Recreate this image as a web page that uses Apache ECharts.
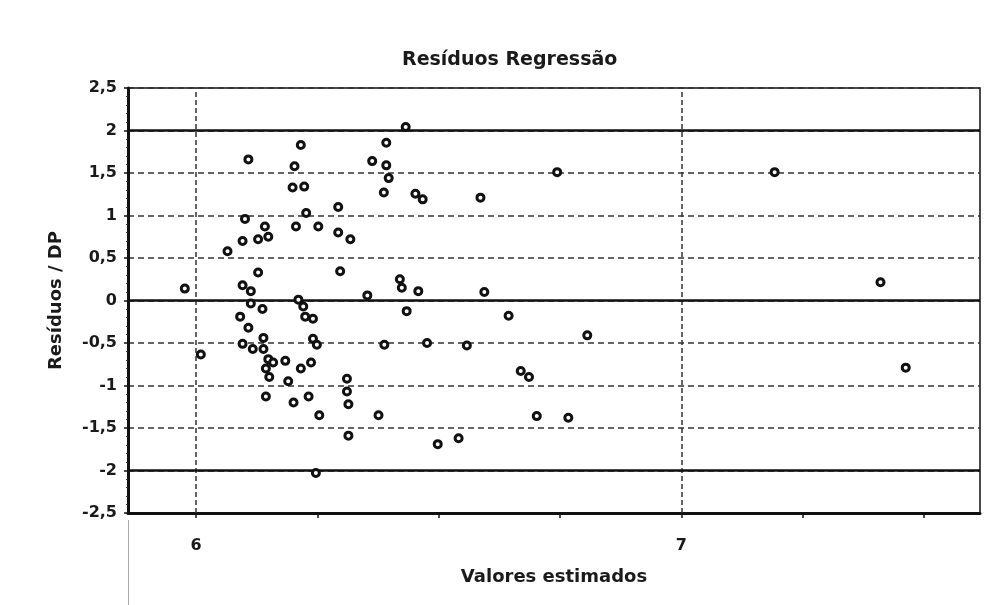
<!DOCTYPE html>
<html>
<head>
<meta charset="utf-8">
<script src="https://cdn.jsdelivr.net/npm/echarts@6/dist/echarts.min.js"></script>
<style>html,body{margin:0;padding:0;background:#fff;}#c{width:997px;height:605px;}</style>
</head>
<body>
<div id="c"></div>
<script>
const chartTitle = 'Resíduos Regressão';
const xAxisTitle = 'Valores estimados';
const yAxisTitle = 'Resíduos / DP';
const xLabelValues = [6, 7];
const xTickValues = [6, 6.25, 6.5, 6.75, 7, 7.25, 7.5];
const xGridValues = [6, 7];
const yLimitLines = [2, 0, -2];
const estimated = [5.977, 6.010, 6.065, 6.091, 6.096, 6.096, 6.096, 6.101, 6.108, 6.108,
  6.113, 6.113, 6.117, 6.128, 6.128, 6.137, 6.139, 6.139, 6.142, 6.144,
  6.144, 6.149, 6.149, 6.151, 6.159, 6.184, 6.190, 6.199, 6.201, 6.203,
  6.206, 6.211, 6.216, 6.216, 6.221, 6.223, 6.225, 6.227, 6.232, 6.237,
  6.241, 6.241, 6.249, 6.247, 6.252, 6.254, 6.293, 6.293, 6.297, 6.311,
  6.311, 6.314, 6.314, 6.318, 6.353, 6.363, 6.376, 6.387, 6.388, 6.392,
  6.392, 6.397, 6.420, 6.424, 6.432, 6.434, 6.452, 6.458, 6.467, 6.476,
  6.498, 6.541, 6.558, 6.586, 6.594, 6.644, 6.669, 6.686, 6.702, 6.744,
  6.767, 6.806, 7.192, 7.410, 7.462];
const residuals = [0.14, -0.635, 0.58, -0.19, 0.70, 0.18, -0.51, 0.96, 1.66, -0.32,
  0.11, -0.035, -0.57, 0.72, 0.33, -0.10, -0.44, -0.57, 0.87, -0.80,
  -1.13, 0.75, -0.69, -0.90, -0.73, -0.71, -0.95, 1.33, -1.20, 1.58,
  0.87, 0.01, 1.83, -0.80, -0.07, 1.34, -0.19, 1.03, -1.13, -0.73,
  -0.215, -0.45, -0.52, -2.03, 0.87, -1.35, 1.10, 0.80, 0.345, -0.92,
  -1.07, -1.22, -1.59, 0.72, 0.06, 1.64, -1.35, 1.27, -0.52, 1.855,
  1.59, 1.44, 0.25, 0.15, 2.04, -0.125, 1.255, 0.11, 1.19, -0.50,
  -1.69, -1.62, -0.53, 1.21, 0.10, -0.18, -0.83, -0.90, -1.36, 1.51,
  -1.38, -0.41, 1.51, 0.215, -0.79];

const FONT = 'DejaVu Sans';
const points = estimated.map((x, i) => [x, residuals[i]]);
const fmt = v => String(v).replace('.', ',');

const chart = echarts.init(document.getElementById('c'), null, {renderer: 'canvas'});
chart.setOption({
  animation: false,
  backgroundColor: '#ffffff',
  title: {
    text: chartTitle,
    left: 397, top: 46,
    textStyle: {fontFamily: FONT, fontSize: 19, fontWeight: 'bold', color: '#1a1a1a'}
  },
  grid: {
    left: 128, right: 17, top: 88, bottom: 92,
    show: true, borderColor: '#111', borderWidth: 1.5, backgroundColor: 'transparent'
  },
  xAxis: {
    type: 'value', min: 5.86, max: 7.615,
    name: xAxisTitle, nameLocation: 'middle', nameGap: 55,
    nameTextStyle: {fontFamily: FONT, fontSize: 18, fontWeight: 'bold', color: '#1a1a1a'},
    axisLine: {show: true, onZero: false, lineStyle: {color: '#111', width: 3}},
    axisTick: {show: true, customValues: xTickValues, length: 5, lineStyle: {color: '#111', width: 1.5}},
    axisLabel: {customValues: xLabelValues, margin: 25, formatter: fmt,
      fontFamily: FONT, fontSize: 16, fontWeight: 'bold', color: '#1a1a1a'},
    splitLine: {show: false}
  },
  yAxis: {
    type: 'value', min: -2.5, max: 2.5, interval: 0.5,
    name: yAxisTitle, nameLocation: 'middle', nameGap: 63, nameRotate: 90,
    nameTextStyle: {fontFamily: FONT, fontSize: 18, fontWeight: 'bold', color: '#1a1a1a'},
    axisLine: {show: true, onZero: false, lineStyle: {color: '#111', width: 3}},
    axisTick: {show: true, length: 4, lineStyle: {color: '#111', width: 1.5}},
    minorTick: {show: true, splitNumber: 5, length: 2, lineStyle: {color: '#333', width: 1}},
    axisLabel: {margin: 11, formatter: fmt,
      fontFamily: FONT, fontSize: 16, fontWeight: 'bold', color: '#1a1a1a'},
    splitLine: {show: true, lineStyle: {color: '#333', width: 1.5, type: [6, 4]}}
  },
  series: [
    {
      type: 'scatter',
      data: [],
      silent: true,
      markLine: {
        silent: true, symbol: 'none', label: {show: false},
        data: xGridValues.map(v => ({xAxis: v, lineStyle: {color: '#333', width: 1.5, type: [5, 3]}}))
          .concat(yLimitLines.map(v => ({yAxis: v, lineStyle: {color: '#111', width: 2.5, type: 'solid'}})))
      }
    },
    {
      type: 'scatter',
      data: points,
      symbol: 'circle',
      symbolSize: 7,
      itemStyle: {color: '#ffffff', borderColor: '#111', borderWidth: 3, opacity: 1},
      z: 5
    }
  ],
  graphic: [{
    type: 'line', silent: true,
    shape: {x1: 128.5, y1: 520, x2: 128.5, y2: 605},
    style: {stroke: '#aaa', lineWidth: 1}
  }]
});
</script>
</body>
</html>
